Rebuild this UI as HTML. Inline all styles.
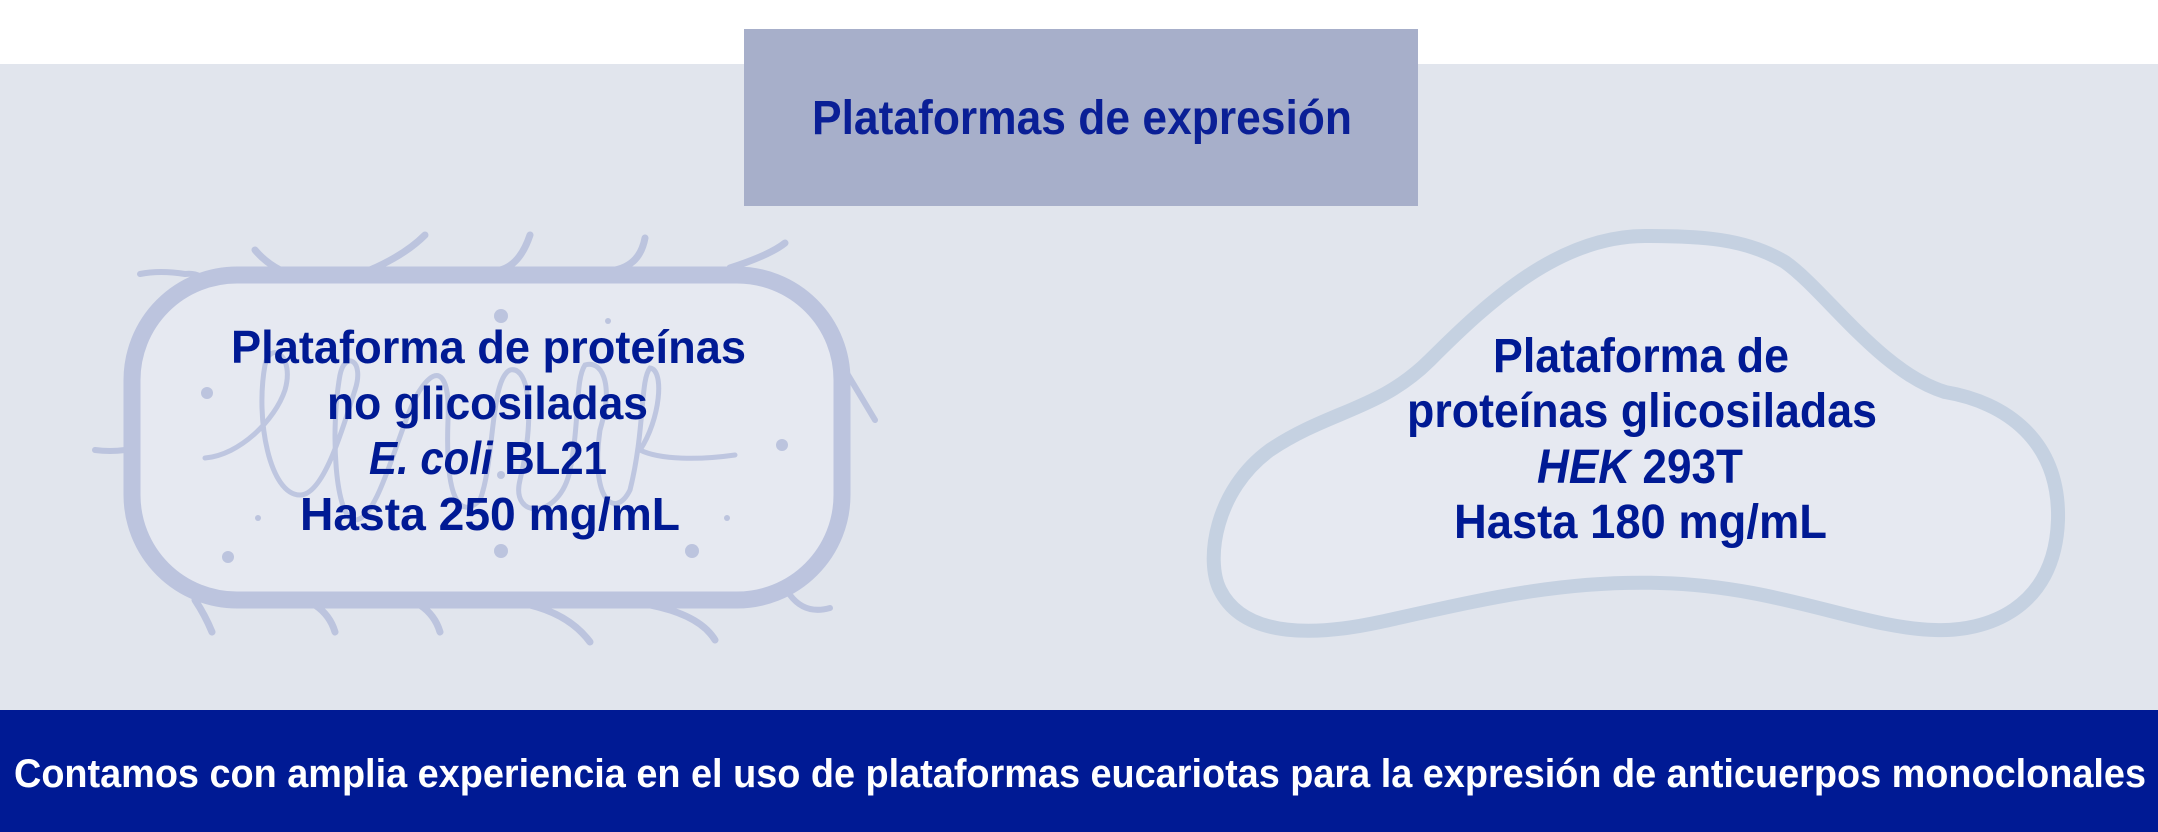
<!DOCTYPE html>
<html><head><meta charset="utf-8"><style>
html,body{margin:0;padding:0;width:2158px;height:832px;overflow:hidden;background:#fff}
svg{display:block}
text{font-family:"Liberation Sans",Arial,sans-serif;font-weight:bold}
</style></head><body>
<svg width="2158" height="832" viewBox="0 0 2158 832" xmlns="http://www.w3.org/2000/svg">
<rect x="0" y="0" width="2158" height="65" fill="#ffffff"/>
<rect x="0" y="64" width="2158" height="646" fill="#e1e5ed"/>
<rect x="0" y="710" width="2158" height="122" fill="#001a94"/>
<rect x="744" y="29" width="674" height="177" fill="#a7afca"/>
<text x="812" y="134" font-size="48" fill="#0a1f96" textLength="540" lengthAdjust="spacingAndGlyphs">Plataformas de expresión</text>

<!-- bacterium -->
<g stroke="#bcc4de" fill="none" stroke-linecap="round">
  <path d="M255 250 Q265 262 280 270" stroke-width="7"/>
  <path d="M140 274 Q160 270 185 274 Q200 272 210 285" stroke-width="6"/>
  <path d="M370 270 Q405 255 425 235" stroke-width="7"/>
  <path d="M500 270 Q520 265 530 235" stroke-width="7"/>
  <path d="M615 270 Q640 265 645 238" stroke-width="7"/>
  <path d="M730 268 Q770 255 785 243" stroke-width="7"/>
  <path d="M845 370 Q860 395 875 420" stroke-width="6"/>
  <path d="M95 450 Q110 452 125 450" stroke-width="6"/>
  <path d="M195 600 Q205 615 212 632" stroke-width="7"/>
  <path d="M315 605 Q330 615 335 632" stroke-width="7"/>
  <path d="M420 605 Q435 615 440 632" stroke-width="7"/>
  <path d="M530 605 Q570 615 590 642" stroke-width="7"/>
  <path d="M650 605 Q700 615 715 640" stroke-width="7"/>
  <path d="M790 595 Q805 615 830 608" stroke-width="6"/>
</g>
<rect x="132" y="275" width="710" height="325" rx="105" ry="105" fill="#e6e9f1" stroke="#bcc4de" stroke-width="17"/>
<g stroke="#bcc4de" fill="none" stroke-width="5" stroke-linecap="round" opacity="0.95">
<path d="M205 458 C240 455 275 420 285 390 C295 355 270 340 265 365 C255 420 270 495 300 495 C325 495 345 420 355 390 C365 360 345 350 340 375 C330 430 335 520 355 520 C380 520 400 420 420 390 C440 360 450 380 448 420 C445 500 460 520 480 500 C495 460 490 380 510 370 C530 365 535 420 520 480 C510 520 560 520 570 470 C580 420 575 380 585 365 C600 360 615 380 600 430 C590 500 615 520 630 490 C645 430 640 380 650 368 C665 370 660 420 640 450 C660 460 700 460 735 455"/>
</g>
<g fill="#bcc4de">
<circle cx="501" cy="316" r="7"/><circle cx="608" cy="321" r="3"/>
<circle cx="207" cy="393" r="6"/><circle cx="782" cy="445" r="6"/>
<circle cx="258" cy="518" r="3"/><circle cx="727" cy="518" r="3"/>
<circle cx="228" cy="557" r="6"/><circle cx="501" cy="551" r="7"/><circle cx="692" cy="551" r="7"/>
<circle cx="501" cy="475" r="4"/>
</g>
<g fill="#001a94" font-size="46">
<text x="231" y="363" textLength="515" lengthAdjust="spacingAndGlyphs">Plataforma de proteínas</text>
<text x="327" y="419" textLength="321" lengthAdjust="spacingAndGlyphs">no glicosiladas</text>
<text x="369" y="474" textLength="238" lengthAdjust="spacingAndGlyphs"><tspan font-style="italic">E. coli</tspan> BL21</text>
<text x="300" y="530" textLength="380" lengthAdjust="spacingAndGlyphs">Hasta 250 mg/mL</text>
</g>

<!-- HEK cell -->
<path d="M1645 236 C1560 236 1490 300 1430 360 C1380 410 1330 410 1270 450 C1215 490 1205 560 1220 590 C1245 640 1320 635 1380 622 C1480 600 1560 580 1660 583 C1780 586 1860 628 1935 630 C1985 632 2055 610 2058 520 C2060 440 2005 402 1945 392 C1880 372 1825 290 1785 262 C1745 238 1700 236 1645 236 Z" fill="#e6e9f1" stroke="#c5d1e1" stroke-width="14"/>
<g fill="#001a94" font-size="48">
<text x="1493" y="372" textLength="296" lengthAdjust="spacingAndGlyphs">Plataforma de</text>
<text x="1407" y="427" textLength="470" lengthAdjust="spacingAndGlyphs">proteínas glicosiladas</text>
<text x="1537" y="483" textLength="206" lengthAdjust="spacingAndGlyphs"><tspan font-style="italic">HEK</tspan> 293T</text>
<text x="1454" y="538" textLength="373" lengthAdjust="spacingAndGlyphs">Hasta 180 mg/mL</text>
</g>

<text x="14" y="787" font-size="40" fill="#ffffff" textLength="2132" lengthAdjust="spacingAndGlyphs">Contamos con amplia experiencia en el uso de plataformas eucariotas para la expresión de anticuerpos monoclonales</text>
</svg>
</body></html>
